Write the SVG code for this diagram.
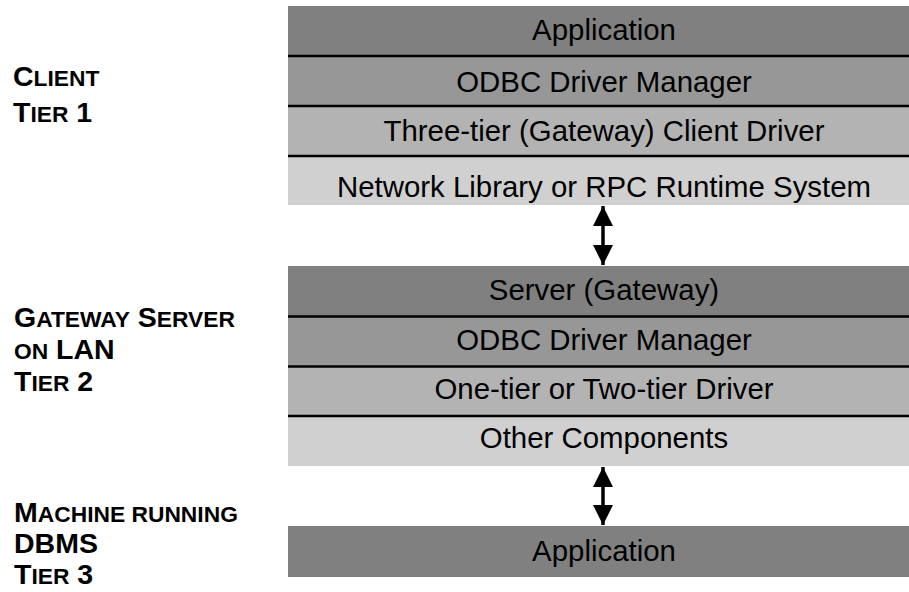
<svg xmlns="http://www.w3.org/2000/svg" width="909" height="592" viewBox="0 0 909 592">
<style>
.r1{fill:#808080}
.r2{fill:#979797}
.r3{fill:#b3b3b3}
.r4{fill:#d0d0d0}
.div{stroke:#000;stroke-width:2.5}
.t{font-family:"Liberation Sans",Arial,sans-serif;font-size:29.4px;fill:#000;text-anchor:middle}
.lab{font-family:"Liberation Sans",Arial,sans-serif;font-weight:bold;font-size:28.5px;fill:#000}
.sc{font-size:22.8px}
.arr{stroke:#000;stroke-width:3.5;fill:none;marker-start:url(#ah);marker-end:url(#ah)}
</style>
<defs>
<marker id="ah" viewBox="0 0 20 20" refX="20" refY="10" markerWidth="20" markerHeight="20" markerUnits="userSpaceOnUse" orient="auto-start-reverse">
<path d="M0,0 L20,10 L0,20 z" fill="#000"/>
</marker>
</defs>
<rect width="909" height="592" fill="#fff"/>
<g id="label-tier1">
<text class="lab" x="13" y="85.7">C<tspan class="sc">LIENT</tspan></text>
<text class="lab" x="13" y="121.7">T<tspan class="sc">IER</tspan> 1</text>
</g>
<g id="label-tier2">
<text class="lab" x="14" y="326.7">G<tspan class="sc">ATEWAY</tspan> S<tspan class="sc">ERVER</tspan></text>
<text class="lab" x="14" y="359"><tspan class="sc">ON</tspan> LAN</text>
<text class="lab" x="14" y="391">T<tspan class="sc">IER</tspan> 2</text>
</g>
<g id="label-tier3">
<text class="lab" x="14" y="521.7">M<tspan class="sc">ACHINE RUNNING</tspan></text>
<text class="lab" x="14" y="553.3">DBMS</text>
<text class="lab" x="14" y="584.3">T<tspan class="sc">IER</tspan> 3</text>
</g>
<g id="client-stack">
<rect class="r1" x="288" y="6" width="640" height="50"/>
<rect class="r2" x="288" y="56" width="640" height="50"/>
<rect class="r3" x="288" y="106" width="640" height="50"/>
<rect class="r4" x="288" y="156" width="640" height="49"/>
<line class="div" x1="288" y1="56" x2="928" y2="56"/>
<line class="div" x1="288" y1="106" x2="928" y2="106"/>
<line class="div" x1="288" y1="156" x2="928" y2="156"/>
<text class="t" x="604" y="39.5">Application</text>
<text class="t" x="604" y="91.5">ODBC Driver Manager</text>
<text class="t" x="604" y="140.5">Three-tier (Gateway) Client Driver</text>
<text class="t" x="604" y="196.5">Network Library or RPC Runtime System</text>
</g>
<g id="gateway-stack">
<rect class="r1" x="288" y="266" width="640" height="50.5"/>
<rect class="r2" x="288" y="316.5" width="640" height="50"/>
<rect class="r3" x="288" y="366.5" width="640" height="49.5"/>
<rect class="r4" x="288" y="416" width="640" height="50"/>
<line class="div" x1="288" y1="316.5" x2="928" y2="316.5"/>
<line class="div" x1="288" y1="366.5" x2="928" y2="366.5"/>
<line class="div" x1="288" y1="416" x2="928" y2="416"/>
<text class="t" x="604" y="299.5">Server (Gateway)</text>
<text class="t" x="604" y="350">ODBC Driver Manager</text>
<text class="t" x="604" y="398.5">One-tier or Two-tier Driver</text>
<text class="t" x="604" y="448">Other Components</text>
</g>
<g id="dbms-stack">
<rect class="r1" x="288" y="526" width="640" height="51"/>
<text class="t" x="604" y="561">Application</text>
</g>
<g id="connectors">
<line class="arr" x1="603" y1="206" x2="603" y2="265"/>
<line class="arr" x1="603" y1="467" x2="603" y2="525"/>
</g>
</svg>
